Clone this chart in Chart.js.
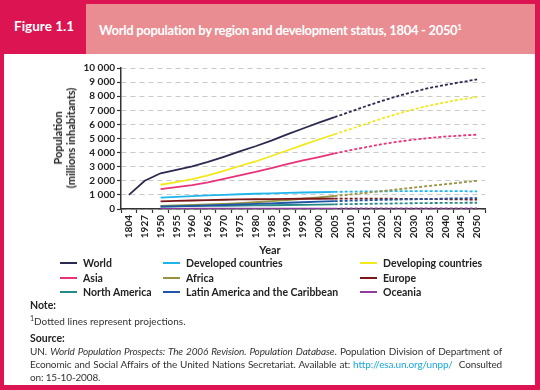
<!DOCTYPE html>
<html lang="en">
<head>
<meta charset="UTF-8">
<title>World population by region and development status</title>
<script src="https://cdn.jsdelivr.net/npm/chart.js"></script>
<style>
  html, body { margin: 0; padding: 0; }
  body { width: 540px; height: 390px; background: #dc1452; position: relative; overflow: hidden;
         font-family: Lato, "Open Sans", sans-serif; color: #222; }
  #fig { position: absolute; left: 14px; top: 18px; color: #fff; font-weight: bold; font-size: 13.5px; }
  #head { position: absolute; left: 86px; top: 4px; width: 449px; height: 50px; background: #e98d92; }
  #head span { position: absolute; left: 13px; top: 18px; color: #fff; font-weight: bold; font-size: 13px; letter-spacing: -0.3px; white-space: nowrap; }
  #head sup { font-size: 8px; }
  #panel { position: absolute; left: 4px; top: 54px; width: 531px; height: 331px; background: #fff; }
  #wrap { position: absolute; left: 20px; top: 55px; width: 480px; height: 190px; }
  #ytitle { position: absolute; left: 64px; top: 138px; transform: translate(-50%, -50%) rotate(-90deg);
            font-weight: bold; font-size: 11px; text-align: center; line-height: 13px; white-space: nowrap; }
  #xtitle { position: absolute; left: 270px; top: 243px; transform: translateX(-50%); font-weight: bold; font-size: 11px; }
  #legend { position: absolute; left: 60px; top: 256px; width: 460px; }
  .it { position: absolute; font-weight: bold; font-size: 10.5px; white-space: nowrap; line-height: 14px; }
  .it i { display: inline-block; width: 17px; height: 2px; vertical-align: middle; margin-right: 6px; margin-top: -2px; }
  #notes { position: absolute; left: 30px; top: 299px; width: 472px; font-size: 10px; color: #333; line-height: 13px; }
  #notes b { color: #222; font-size: 10.5px; }
  #notes p { margin: 0; }
  .just { text-align: justify; letter-spacing: -0.15px; }
  a { color: #1aa8e0; text-decoration: none; }
</style>
</head>
<body>
<div id="panel"></div>
<div id="fig">Figure 1.1</div>
<div id="head"><span>World population by region and development status, 1804 - 2050<sup>1</sup></span></div>
<div id="wrap"><canvas id="chart"></canvas></div>
<div id="ytitle">Population<br>(millions inhabitants)</div>
<div id="xtitle">Year</div>
<div id="legend"></div>
<div id="notes">
  <p><b>Note:</b></p>
  <p><sup style="font-size:7px">1</sup>Dotted lines represent projections.</p>
  <p style="margin-top:4px"><b>Source:</b></p>
  <p class="just">UN. <i>World Population Prospects: The 2006 Revision. Population Database</i>. Population Division of Department of Economic and Social Affairs of the United Nations Secretariat. Available at: <a>http://esa.un.org/unpp/</a>&nbsp; Consulted on: 15-10-2008.</p>
</div>

<script>
const years = ['1804', '1927', '1950', '1955', '1960', '1965', '1970', '1975', '1980', '1985', '1990', '1995',
  '2000', '2005', '2010', '2015', '2020', '2025', '2030', '2035', '2040', '2045', '2050'];
const yTicks = [0, 1000, 2000, 3000, 4000, 5000, 6000, 7000, 8000, 9000, 10000];
const projectionFrom = '2005';

const world = [1000, 2000, 2535, 2770, 3030, 3340, 3700, 4080, 4450, 4850, 5290, 5710, 6120, 6515,
  6900, 7300, 7670, 8010, 8320, 8590, 8800, 9000, 9190];
const developed = [null, null, 813, 865, 915, 967, 1008, 1047, 1083, 1114, 1144, 1169, 1188, 1216,
  1232, 1247, 1258, 1265, 1268, 1269, 1268, 1265, 1245];
const developing = [null, null, 1720, 1910, 2120, 2380, 2700, 3050, 3370, 3760, 4150, 4550, 4930, 5300,
  5670, 6050, 6420, 6760, 7070, 7340, 7570, 7780, 7950];
const asia = [null, null, 1411, 1550, 1700, 1890, 2140, 2390, 2630, 2900, 3180, 3440, 3680, 3940,
  4170, 4390, 4600, 4770, 4920, 5040, 5140, 5210, 5270];
const africa = [null, null, 224, 250, 282, 320, 364, 416, 480, 554, 637, 726, 821, 922,
  1032, 1149, 1271, 1394, 1518, 1641, 1760, 1879, 1998];
const europe = [null, null, 547, 576, 604, 634, 656, 676, 693, 707, 721, 727, 728, 731,
  733, 733, 730, 724, 715, 705, 694, 682, 664];
const northAmerica = [null, null, 172, 187, 204, 219, 231, 242, 254, 267, 283, 299, 316, 332,
  349, 365, 381, 396, 410, 422, 432, 441, 445];
const latinAmerica = [null, null, 167, 191, 218, 250, 285, 324, 363, 403, 442, 480, 520, 556,
  589, 620, 646, 670, 690, 707, 741, 756, 769];
const oceania = [null, null, 13, 14, 16, 18, 20, 21, 23, 25, 27, 29, 31, 33,
  35, 37, 39, 41, 43, 45, 46, 47, 49];

const series = [
  { label: 'World', data: world, color: '#2b2a4f', col: 0, row: 0 },
  { label: 'Developed countries', data: developed, color: '#1fb5ea', col: 1, row: 0 },
  { label: 'Developing countries', data: developing, color: '#f2e81c', col: 2, row: 0 },
  { label: 'Asia', data: asia, color: '#e8337b', col: 0, row: 1 },
  { label: 'Africa', data: africa, color: '#999140', col: 1, row: 1 },
  { label: 'Europe', data: europe, color: '#7b1718', col: 2, row: 1 },
  { label: 'North America', data: northAmerica, color: '#258a86', col: 0, row: 2 },
  { label: 'Latin America and the Caribbean', data: latinAmerica, color: '#1f55a6', col: 1, row: 2 },
  { label: 'Oceania', data: oceania, color: '#8d3c9b', col: 2, row: 2 }
];

const projIdx = years.indexOf(projectionFrom);
const font = { family: 'Lato, "Open Sans", sans-serif', size: 10, weight: 'bold' };

// legend as html, three columns
const legend = document.getElementById('legend');
const colLeft = [0, 103, 300];
series.forEach(s => {
  const d = document.createElement('div');
  d.className = 'it';
  d.style.left = colLeft[s.col] + 'px';
  d.style.top = (s.row * 14.5) + 'px';
  d.innerHTML = '<i style="background:' + s.color + '"></i>' + s.label;
  legend.appendChild(d);
});

const ctx = document.getElementById('chart').getContext('2d');
new Chart(ctx, {
  type: 'line',
  data: {
    labels: years,
    datasets: series.map(s => ({
      label: s.label,
      data: s.data,
      borderColor: s.color,
      backgroundColor: s.color,
      borderWidth: 1.8,
      pointRadius: 0,
      tension: 0,
      segment: {
        borderDash: c => c.p0DataIndex >= projIdx ? [3, 2] : undefined
      }
    })).reverse()
  },
  options: {
    responsive: true,
    maintainAspectRatio: false,
    animation: false,
    layout: { padding: { top: 13, right: 15, left: 0, bottom: 0 } },
    plugins: { legend: { display: false }, tooltip: { enabled: false } },
    scales: {
      x: {
        offset: true,
        grid: { offset: true, drawOnChartArea: false, drawTicks: true, tickLength: 4, tickColor: '#333', tickWidth: 1.2 },
        border: { color: '#333', width: 1.5 },
        ticks: { color: '#222', font: font, minRotation: 90, maxRotation: 90, padding: 2, autoSkip: false },
        afterFit: sc => { sc.height = 36; }
      },
      y: {
        min: 0,
        max: 10000,
        afterBuildTicks: sc => { sc.ticks = yTicks.map(v => ({ value: v })); },
        grid: { color: '#c9c9c9', lineWidth: 1, tickLength: 4, tickColor: '#333', tickWidth: 1.2 },
        border: { color: '#333', width: 1.5, dash: [5, 4] },
        ticks: {
          color: '#222', font: font, padding: 2, autoSkip: false,
          callback: v => v >= 1000 ? Math.floor(v / 1000) + ' ' + String(v % 1000).padStart(3, '0') : String(v)
        },
        afterFit: sc => { sc.width = 101; }
      }
    }
  }
});
</script>
</body>
</html>
